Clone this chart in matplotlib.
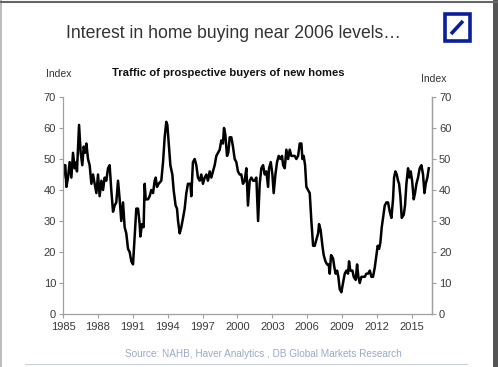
import matplotlib
matplotlib.use("Agg")
import matplotlib.pyplot as plt
from matplotlib.patches import Rectangle
from matplotlib.lines import Line2D

plt.rcParams['font.family'] = ['Liberation Sans', 'DejaVu Sans']

years = [1985.00, 1985.09, 1985.20, 1985.29, 1985.43, 1985.57, 1985.72, 1985.86, 1986.00, 1986.15,
         1986.20, 1986.38, 1986.52, 1986.66, 1986.78, 1986.89, 1987.01, 1987.15, 1987.29, 1987.44,
         1987.58, 1987.72, 1987.87, 1988.01, 1988.15, 1988.30, 1988.44, 1988.58, 1988.72, 1988.87,
         1989.01, 1989.15, 1989.30, 1989.44, 1989.58, 1989.73, 1989.87, 1990.01, 1990.16, 1990.30,
         1990.44, 1990.59, 1990.73, 1990.87, 1991.02, 1991.16, 1991.30, 1991.45, 1991.59, 1991.65,
         1991.79, 1991.93, 1992.02, 1992.11, 1992.31, 1992.45, 1992.59, 1992.74, 1992.88, 1992.97,
         1993.08, 1993.22, 1993.45, 1993.60, 1993.74, 1993.88, 1993.97, 1994.11, 1994.23, 1994.40,
         1994.51, 1994.68, 1994.80, 1994.89, 1995.03, 1995.17, 1995.32, 1995.46, 1995.60, 1995.74,
         1995.95, 1996.03, 1996.17, 1996.32, 1996.46, 1996.60, 1996.75, 1996.89, 1997.03, 1997.18,
         1997.32, 1997.46, 1997.61, 1997.75, 1997.89, 1998.04, 1998.18, 1998.32, 1998.47, 1998.61,
         1998.75, 1998.84, 1998.95, 1999.10, 1999.21, 1999.33, 1999.47, 1999.61, 1999.76, 1999.90,
         2000.04, 2000.19, 2000.33, 2000.47, 2000.62, 2000.76, 2000.90,
         2001.05, 2001.19, 2001.34, 2001.48, 2001.62, 2001.77, 2001.91, 2002.05, 2002.20, 2002.34,
         2002.48, 2002.63, 2002.71, 2002.86, 2003.00, 2003.11, 2003.26, 2003.40, 2003.54, 2003.69,
         2003.83, 2003.92, 2004.06, 2004.20, 2004.35, 2004.49, 2004.63, 2004.78, 2004.92, 2005.06,
         2005.21, 2005.35, 2005.49, 2005.58, 2005.69, 2005.81, 2005.92, 2006.07, 2006.21, 2006.35,
         2006.50, 2006.64, 2006.78, 2006.93, 2007.01, 2007.15, 2007.30, 2007.41, 2007.56, 2007.70,
         2007.84, 2007.93, 2008.04, 2008.21, 2008.33, 2008.44, 2008.56, 2008.67, 2008.79, 2008.93,
         2009.07, 2009.22, 2009.36, 2009.50, 2009.59, 2009.70, 2009.88, 2009.99, 2010.16, 2010.28,
         2010.39, 2010.51, 2010.65, 2010.79, 2010.94, 2011.08, 2011.22, 2011.37, 2011.51, 2011.65,
         2011.80, 2011.94, 2012.05, 2012.17, 2012.28, 2012.40, 2012.51, 2012.66, 2012.80, 2012.94,
         2013.09, 2013.23, 2013.37, 2013.46, 2013.57, 2013.69, 2013.80, 2013.89, 2014.00, 2014.12,
         2014.29, 2014.40, 2014.52, 2014.66, 2014.78, 2014.89, 2015.01, 2015.15, 2015.26, 2015.38,
         2015.52, 2015.66, 2015.81, 2015.95, 2016.07, 2016.18, 2016.32, 2016.44]

index_values = [44, 48, 48, 41, 44, 49, 44, 52, 47, 49,
                46, 61, 52, 48, 54, 52, 55, 50, 48, 42,
                45, 42, 39, 45, 38, 43, 40, 44, 43, 47,
                48, 40, 33, 35, 36, 43, 37, 30, 36, 28,
                26, 21, 20, 17, 16, 25, 34, 34, 29, 25,
                29, 28, 42, 37, 37, 38, 40, 39, 43, 44,
                41, 42, 43, 49, 57, 62, 61, 54, 48, 45,
                40, 35, 34, 30, 26, 28, 31, 34, 39, 42,
                42, 38, 49, 50, 48, 44, 43, 45, 42, 44,
                45, 43, 46, 44, 46, 48, 51, 52, 53, 56,
                55, 60, 58, 51, 52, 57, 57, 54, 50, 49,
                46, 45, 45, 42, 43, 47, 35,
                43, 44, 43, 43, 44, 30, 42, 47, 48, 45,
                46, 41, 47, 49, 45, 39, 45, 49, 51, 50,
                51, 48, 47, 53, 50, 53, 51, 51, 51, 50,
                51, 55, 55, 50, 51, 48, 41, 40, 39, 30,
                22, 22, 24, 26, 29, 27, 22, 19, 17, 16,
                16, 13, 19, 18, 15, 13, 14, 12, 8, 7,
                10, 13, 14, 13, 17, 14, 14, 12, 11, 16,
                12, 10, 12, 12, 12, 13, 13, 14, 12, 12,
                15, 19, 22, 21, 23, 28, 31, 35, 36, 36,
                33, 31, 37, 44, 46, 45, 43, 42, 38, 31,
                32, 35, 42, 47, 44, 46, 43, 37, 39, 42,
                44, 47, 48, 45, 39, 42, 44, 47]

xticks = [1985, 1988, 1991, 1994, 1997, 2000, 2003, 2006, 2009, 2012, 2015]
yticks = [0, 10, 20, 30, 40, 50, 60, 70]

W, H = 498, 367
fig = plt.figure(figsize=(W / 100, H / 100), dpi=100)
fig.patch.set_facecolor('white')

ax = fig.add_axes([63 / W, 1 - 314 / H, (432 - 63) / W, (314 - 97) / H])
ax.plot(years, index_values, color='black', lw=1.8, solid_joinstyle='round')
ax.set_xlim(1985, 2016.72)
ax.set_ylim(0, 70)
ax.set_xticks(xticks)
ax.set_yticks(yticks)
spine_col = '#a0a0a0'
ax.spines['top'].set_visible(False)
for s in ['left', 'bottom', 'right']:
    ax.spines[s].set_color(spine_col)
    ax.spines[s].set_linewidth(0.9)
ax.tick_params(axis='both', colors=spine_col, labelcolor='#3a3a3a', labelsize=8, length=3, width=0.8)
ax.tick_params(axis='x', direction='out', pad=3)
ax.tick_params(axis='y', direction='out', pad=2)

ax2 = ax.twinx()
ax2.set_ylim(0, 70)
ax2.set_yticks(yticks)
for s in ['top', 'left', 'bottom']:
    ax2.spines[s].set_visible(False)
ax2.spines['right'].set_color(spine_col)
ax2.spines['right'].set_linewidth(0.9)
ax2.tick_params(axis='y', colors=spine_col, labelcolor='#3a3a3a', labelsize=8, length=3, width=0.8, direction='out', pad=2)

fig.text(233 / W, 1 - 33 / H, 'Interest in home buying near 2006 levels…', ha='center', va='center',
         fontsize=12.7, color='#333333')
fig.text(228 / W, 1 - 73 / H, 'Traffic of prospective buyers of new homes', ha='center', va='center',
         fontsize=8.1, fontweight='bold', color='#111111')
fig.text(59 / W, 1 - 74 / H, 'Index', ha='center', va='center', fontsize=7.5, color='#333333')
fig.text(434 / W, 1 - 79 / H, 'Index', ha='center', va='center', fontsize=7.5, color='#333333')
fig.text(263 / W, 1 - 354 / H, 'Source: NAHB, Haver Analytics , DB Global Markets Research', ha='center',
         va='center', fontsize=7.2, color='#9aaac4')

# bottom rule
fig.add_artist(Line2D([25 / W, 467 / W], [1 - 364 / H, 1 - 364 / H], color='#c8d0dc', lw=0.8))

# frame
fig.add_artist(Line2D([1 / W, 1 / W], [0, 1], color='#b0b0b0', lw=1.2))
fig.add_artist(Line2D([0, 1], [1 - 1.5 / H, 1 - 1.5 / H], color='#666666', lw=1.5))
fig.add_artist(Rectangle((493 / W, 0), 5 / W, 1, transform=fig.transFigure, color='#555555', lw=0))

# logo
blue = '#0a1f9c'
fig.add_artist(Rectangle((444.5 / W, 1 - 40.5 / H), 25 / W, 26 / H, transform=fig.transFigure,
                         facecolor='white', edgecolor=blue, lw=2.6))
fig.add_artist(Line2D([451 / W, 463 / W], [1 - 34 / H, 1 - 21 / H], color=blue, lw=2.6,
                      solid_capstyle='butt'))

fig.savefig('out.png', dpi=100, facecolor='white')
